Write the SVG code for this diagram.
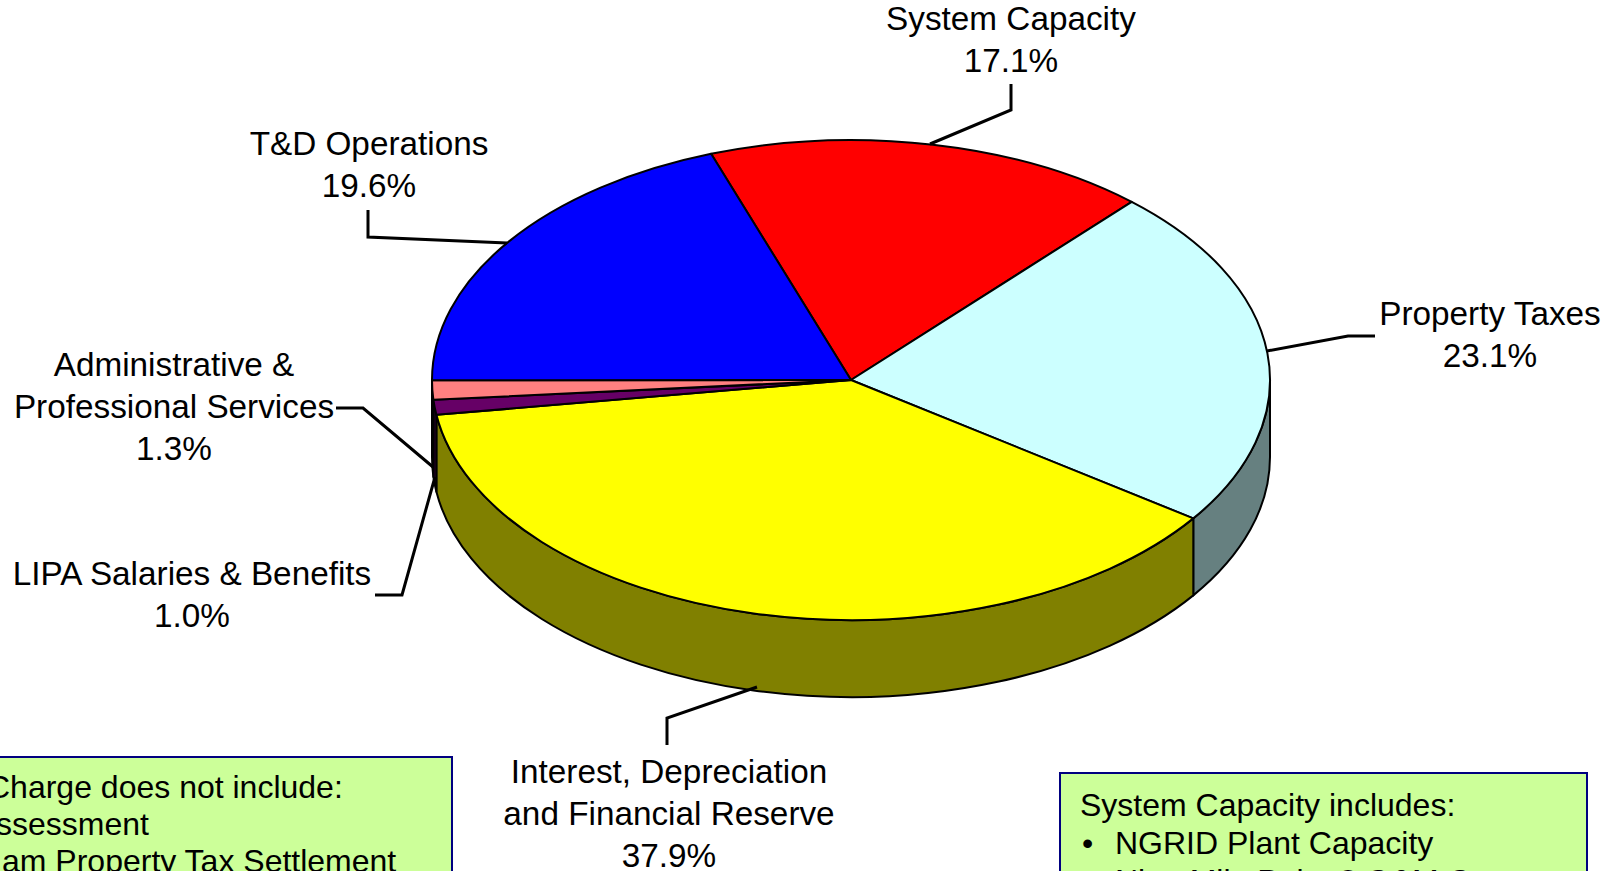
<svg xmlns="http://www.w3.org/2000/svg" width="1602" height="871" viewBox="0 0 1602 871">
<style>
text{font-family:"Liberation Sans",Arial,sans-serif;font-size:33.3px;fill:#000}
.c{text-anchor:middle}
.b{font-size:32px}
.sl{stroke:#000;stroke-width:2;stroke-linejoin:round}
.ld{fill:none;stroke:#000;stroke-width:3}
.box{fill:#CCFF99;stroke:#000080;stroke-width:2}
</style>
<rect width="1602" height="871" fill="#fff"/>
<g id="pie">
<g id="sides">
<path class="sl" fill="#668080" d="M1270,380 A419,240 0 0 1 1193.3,518.4 L1193.3,595.4 A419,240 0 0 0 1270,457 Z"/>
<path class="sl" fill="#808000" d="M1193.3,518.4 A419,240 0 0 1 436.4,414.8 L436.4,491.8 A419,240 0 0 0 1193.3,595.4 Z"/>
<path class="sl" fill="#330033" d="M436.4,414.8 A419,240 0 0 1 433.4,399.8 L433.4,476.8 A419,240 0 0 0 436.4,491.8 Z"/>
<path class="sl" fill="#804040" d="M433.4,399.8 A419,240 0 0 1 432,380 L432,457 A419,240 0 0 0 433.4,476.8 Z"/>
</g>
<g id="slice-system-capacity"><path class="sl" fill="#FF0000" d="M851,380 L711.1,153.8 A419,240 0 0 1 1131.7,201.8 Z"/></g>
<g id="slice-property-taxes"><path class="sl" fill="#CCFFFF" d="M851,380 L1131.7,201.8 A419,240 0 0 1 1193.3,518.4 Z"/></g>
<g id="slice-interest"><path class="sl" fill="#FFFF00" d="M851,380 L1193.3,518.4 A419,240 0 0 1 436.4,414.8 Z"/></g>
<g id="slice-lipa"><path class="sl" fill="#660066" d="M851,380 L436.4,414.8 A419,240 0 0 1 433.4,399.8 Z"/></g>
<g id="slice-admin"><path class="sl" fill="#FF8080" d="M851,380 L433.4,399.8 A419,240 0 0 1 432,380.25 Z"/></g>
<g id="slice-td"><path class="sl" fill="#0000FF" d="M851,380 L432,380.25 A419,240 0 0 1 711.1,153.8 Z"/></g>
</g>
<g id="connectors">
<polyline class="ld" points="930,144 1011,110 1011,84"/>
<polyline class="ld" points="507,243 368,237 368,210"/>
<polyline class="ld" points="1267,351 1348,336 1375,336"/>
<polyline class="ld" points="336,408 363,408 433,467"/>
<polyline class="ld" points="375,595 402,595 435,477"/>
<polyline class="ld" points="757,687 667,718 667,745"/>
</g>
<g id="label-system-capacity"><text class="c" x="1011" y="30">System Capacity</text><text class="c" x="1011" y="72">17.1%</text></g>
<g id="label-td"><text class="c" x="369" y="155">T&amp;D Operations</text><text class="c" x="369" y="197">19.6%</text></g>
<g id="label-property-taxes"><text class="c" x="1490" y="325">Property Taxes</text><text class="c" x="1490" y="367">23.1%</text></g>
<g id="label-admin"><text class="c" x="174" y="376">Administrative &amp;</text><text class="c" x="174" y="418">Professional Services</text><text class="c" x="174" y="460">1.3%</text></g>
<g id="label-lipa"><text class="c" x="192" y="585">LIPA Salaries &amp; Benefits</text><text class="c" x="192" y="627">1.0%</text></g>
<g id="label-interest"><text class="c" x="669" y="783">Interest, Depreciation</text><text class="c" x="669" y="825">and Financial Reserve</text><text class="c" x="669" y="867">37.9%</text></g>
<g id="note-left">
<rect class="box" x="-10" y="757" width="462" height="130"/>
<text class="b" x="-13" y="798">Charge does not include:</text>
<text class="b" x="-4" y="835">ssessment</text>
<text class="b" x="2" y="872">am Property Tax Settlement</text>
</g>
<g id="note-right">
<rect class="box" x="1060" y="773" width="527" height="120"/>
<text class="b" x="1080" y="816">System Capacity includes:</text>
<text class="b" x="1082" y="854">•</text><text class="b" x="1115" y="854">NGRID Plant Capacity</text>
<text class="b" x="1082" y="892">•</text><text class="b" x="1115" y="892">Nine Mile Point 2 O&amp;M Costs</text>
</g>
</svg>
